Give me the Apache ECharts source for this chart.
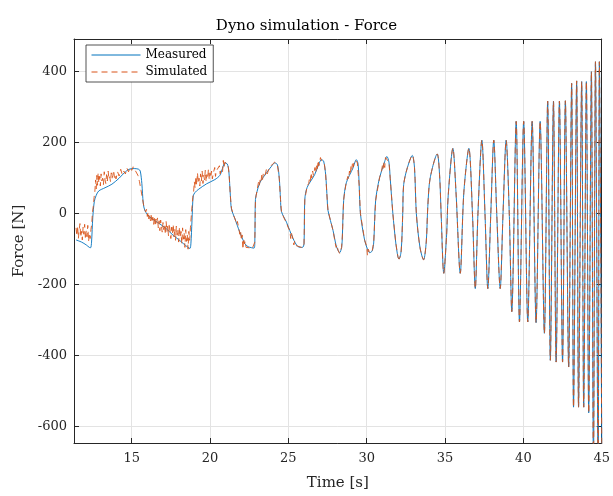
<!DOCTYPE html>
<html>
<head>
<meta charset="utf-8">
<script src="https://cdn.jsdelivr.net/npm/echarts@6/dist/echarts.min.js"></script>
<style>
  html, body { margin: 0; padding: 0; background: #fff; }
  #chart { width: 613px; height: 496px; }
</style>
</head>
<body>
<div id="chart"></div>
<script>
// [time s, force N]
var measuredSlow = [
  [11.45, -74], [11.8, -80], [12.1, -88], [12.3, -95], [12.38, -96], [12.44, -80], [12.52, -10],
  [12.62, 35], [12.74, 52], [12.9, 64], [13.3, 73], [13.74, 83], [14.2, 100], [14.6, 118],
  [14.9, 126], [15.2, 127], [15.45, 125], [15.55, 120], [15.65, 85], [15.74, 30], [15.85, 8],
  [16.17, -10], [16.8, -29], [17.2, -42], [17.65, -61], [18.0, -73], [18.29, -84], [18.6, -95],
  [18.72, -98], [18.78, -85], [18.85, -20], [18.93, 50], [19.05, 60], [19.25, 68], [19.78, 84],
  [20.31, 96], [20.63, 108], [20.8, 128], [20.95, 143], [21.1, 140], [21.2, 120], [21.3, 50],
  [21.37, 13], [21.58, -13], [21.9, -52], [22.22, -84], [22.43, -93], [22.81, -97], [22.86, -80],
  [22.9, 40], [23.0, 62], [23.18, 87], [23.6, 115], [23.9, 132], [24.13, 143], [24.3, 138],
  [24.42, 100], [24.5, 40], [24.56, 6], [24.88, -24], [25.3, -70], [25.62, -93], [25.9, -95],
  [26.0, -85], [26.05, 40], [26.2, 74], [26.68, 110], [26.95, 140], [27.11, 152], [27.25, 148],
  [27.38, 110], [27.48, 40], [27.53, 9], [27.85, -47], [28.05, -90], [28.17, -103], [28.27, -110],
  [28.4, -95], [28.45, -60], [28.53, 37], [28.7, 87], [29.12, 128], [29.34, 152], [29.45, 140],
  [29.52, 80], [29.6, 0], [29.87, -75], [30.05, -100], [30.19, -110], [30.35, -105], [30.45, -80],
  [30.57, 37], [30.82, 101], [31.1, 140], [31.29, 161], [31.42, 145], [31.5, 100], [31.67, 0],
  [31.85, -80], [31.99, -121]
];

var measuredFast = [
  [31.99, -121], [32.06, -128], [32.2, -105], [32.3, 0], [32.36, 82], [32.6, 130], [32.91, 164],
  [33.05, 130], [33.17, 0], [33.4, -95], [33.63, -130], [33.8, -80], [33.9, 20], [34.05, 100],
  [34.5, 168], [34.65, 110], [34.75, 0], [34.92, -168], [35.1, -60], [35.2, 50], [35.5, 184],
  [35.7, 60], [35.97, -168], [36.2, 60], [36.52, 184], [36.75, 0], [36.93, -211], [37.1, 0],
  [37.35, 207], [37.55, 0], [37.73, -211], [37.92, 0], [38.11, 207], [38.3, 0], [38.52, -211],
  [38.7, 0], [38.9, 207], [39.1, 0], [39.26, -276], [39.54, 260], [39.75, -305], [40.02, 260],
  [40.28, -305], [40.56, 260], [40.81, -307], [41.07, 260], [41.34, -337], [41.55, 317],
  [41.72, -413], [41.92, 317], [42.09, -418], [42.3, 317], [42.5, -418], [42.68, 318],
  [42.89, -432], [43.08, 367], [43.2, -545], [43.4, 374], [43.52, -545], [43.72, 372],
  [43.85, -545], [44.02, 372], [44.17, -561], [44.34, 400], [44.47, -720], [44.6, 428],
  [44.77, -740], [44.85, 428], [45.0, -650]
];

var simulatedNoisy = [
  [11.45, -40], [11.5, -62], [11.55, -35], [11.6, -70], [11.65, -45], [11.7, -28], [11.75, -66],
  [11.8, -50], [11.85, -74], [11.9, -38], [11.95, -58], [12.0, -30], [12.05, -72], [12.1, -48],
  [12.15, -65], [12.2, -33], [12.25, -78], [12.3, -55], [12.35, -70], [12.4, -45], [12.45, -30],
  [12.5, 5], [12.55, 20], [12.6, 45], [12.65, 62], [12.7, 95], [12.74, 70], [12.78, 108],
  [12.82, 80], [12.86, 115], [12.9, 88], [12.95, 105], [13.0, 78], [13.05, 112], [13.1, 92],
  [13.15, 100], [13.2, 82], [13.25, 118], [13.3, 95], [13.35, 85], [13.4, 110], [13.45, 92],
  [13.5, 120], [13.55, 98], [13.6, 104], [13.65, 90], [13.7, 115], [13.75, 100], [13.8, 108],
  [13.85, 122], [13.9, 102], [13.95, 110], [14.0, 98], [14.1, 118], [14.2, 106], [14.3, 125],
  [14.4, 110], [14.5, 120], [14.6, 112], [14.7, 128], [14.8, 118], [14.9, 130], [15.0, 122],
  [15.1, 132], [15.2, 124], [15.3, 120], [15.4, 108], [15.5, 90], [15.6, 65], [15.7, 40],
  [15.8, 15], [15.9, 5], [15.95, 12], [16.0, -8], [16.05, 5], [16.1, -15], [16.15, -2],
  [16.2, -20], [16.25, -5], [16.3, -25], [16.35, -10], [16.4, -30], [16.45, -8], [16.5, -35],
  [16.55, -15], [16.6, -28], [16.65, -12], [16.7, -40], [16.75, -20], [16.8, -48], [16.85, -18],
  [16.9, -35], [16.95, -52], [17.0, -25], [17.05, -45], [17.1, -30], [17.15, -58], [17.2, -22],
  [17.25, -50], [17.3, -35], [17.35, -62], [17.4, -28], [17.45, -48], [17.5, -70], [17.55, -38],
  [17.6, -55], [17.65, -30], [17.7, -65], [17.75, -42], [17.8, -75], [17.85, -35], [17.9, -60],
  [17.95, -45], [18.0, -80], [18.05, -38], [18.1, -68], [18.15, -50], [18.2, -85], [18.25, -40],
  [18.3, -72], [18.35, -55], [18.4, -95], [18.45, -45], [18.5, -78], [18.55, -60], [18.6, -100],
  [18.65, -50], [18.7, -75], [18.75, -40], [18.8, -10], [18.85, 20], [18.9, 45], [18.95, 60],
  [19.0, 90], [19.05, 72], [19.1, 105], [19.15, 80], [19.2, 115], [19.25, 88], [19.3, 100],
  [19.35, 78], [19.4, 112], [19.45, 92], [19.5, 120], [19.55, 85], [19.6, 108], [19.65, 95],
  [19.7, 122], [19.75, 90], [19.8, 110], [19.85, 100], [19.9, 125], [19.95, 96], [20.0, 115],
  [20.05, 102], [20.1, 120], [20.15, 98], [20.2, 112], [20.3, 130], [20.35, 105], [20.4, 120],
  [20.5, 115], [20.6, 135], [20.65, 112], [20.7, 125], [20.8, 118], [20.85, 150], [20.9, 130],
  [20.95, 145], [21.05, 140], [21.15, 138], [21.22, 110], [21.3, 50], [21.37, 15], [21.5, -5],
  [21.6, -15], [21.7, -30], [21.75, -22], [21.85, -45], [21.9, -58], [21.95, -48], [22.0, -75],
  [22.05, -60], [22.1, -100], [22.15, -70], [22.2, -85], [22.25, -78], [22.3, -95], [22.4, -90],
  [22.5, -96], [22.6, -95], [22.7, -98], [22.81, -97], [22.86, -80], [22.9, 40], [23.0, 65],
  [23.1, 90], [23.15, 80], [23.2, 95], [23.25, 88], [23.3, 108], [23.35, 95], [23.4, 112],
  [23.5, 105], [23.6, 125], [23.65, 112], [23.7, 118], [23.8, 130], [23.9, 135], [24.0, 140],
  [24.13, 145], [24.3, 138], [24.42, 100], [24.5, 40], [24.56, 6], [24.7, -10], [24.88, -26],
  [25.0, -40], [25.1, -48], [25.15, -70], [25.2, -55], [25.3, -72], [25.35, -88], [25.4, -78],
  [25.5, -90], [25.62, -94], [25.9, -96], [26.0, -85], [26.05, 40], [26.2, 78], [26.3, 85],
  [26.35, 100], [26.4, 92], [26.45, 115], [26.5, 100], [26.55, 120], [26.6, 108], [26.7, 130],
  [26.75, 115], [26.8, 135], [26.85, 125], [26.9, 150], [26.95, 135], [27.05, 158], [27.11, 150],
  [27.2, 155], [27.3, 140], [27.38, 110], [27.48, 40], [27.53, 9], [27.85, -47], [28.0, -85],
  [28.05, -95], [28.1, -88], [28.17, -103], [28.27, -112], [28.4, -95], [28.45, -60], [28.53, 40],
  [28.7, 90], [28.8, 105], [28.85, 98], [28.9, 120], [28.95, 110], [29.0, 135], [29.05, 125],
  [29.1, 145], [29.15, 132], [29.2, 150], [29.3, 155], [29.4, 145], [29.52, 80], [29.6, 0],
  [29.87, -75], [30.0, -92], [30.05, -118], [30.1, -100], [30.19, -110], [30.35, -105],
  [30.45, -80], [30.57, 37], [30.82, 101], [30.95, 120], [31.0, 135], [31.05, 125], [31.1, 145],
  [31.15, 130], [31.2, 158], [31.29, 162], [31.42, 145], [31.5, 100], [31.67, 0], [31.85, -80],
  [31.99, -121]
];

var xRange = [11.32, 45];
var yRange = [-646, 492];

var serif = 'DejaVu Serif';
var axisColor = '#262626';
var gridColor = '#e3e3e3';
var blue = '#0072BD';
var orange = '#D95319';

var myChart = echarts.init(document.getElementById('chart'));

var option = {
    animation: false,
    backgroundColor: '#fff',
    title: {
        text: 'Dyno simulation - Force',
        left: 'center',
        top: 14,
        textStyle: { fontFamily: serif, fontSize: 15, fontWeight: 'normal', color: '#000' }
    },
    legend: {
        left: 86,
        top: 45,
        orient: 'vertical',
        data: ['Measured', 'Simulated'],
        backgroundColor: '#fff',
        borderColor: axisColor,
        borderWidth: 0.8,
        borderRadius: 0,
        padding: [4, 6, 4, 5],
        itemGap: 5,
        itemWidth: 49,
        itemHeight: 12,
        itemStyle: { opacity: 0 },
        lineStyle: { width: 1 },
        textStyle: { fontFamily: serif, fontSize: 12, color: '#000' }
    },
    grid: { left: 74, right: 10, top: 39, bottom: 47 },
    xAxis: [{
        type: 'value',
        min: xRange[0],
        max: xRange[1],
        name: 'Time [s]',
        nameLocation: 'middle',
        nameGap: 33,
        nameTextStyle: { fontFamily: serif, fontSize: 15, color: axisColor },
        axisLine: { onZero: false, lineStyle: { color: axisColor, width: 1 } },
        axisTick: { inside: true, length: 5, lineStyle: { color: axisColor } },
        axisLabel: {
            margin: 9,
            fontFamily: serif, fontSize: 13, color: axisColor,
            formatter: function (v) { return v % 5 === 0 ? String(v) : ''; }
        },
        splitLine: { show: true, lineStyle: { color: gridColor, width: 1 } }
    }, {
        type: 'value',
        position: 'top',
        min: xRange[0],
        max: xRange[1],
        axisLine: { show: true, onZero: false, lineStyle: { color: axisColor, width: 1 } },
        axisTick: { inside: true, length: 5, lineStyle: { color: axisColor } },
        axisLabel: { show: false },
        splitLine: { show: false }
    }],
    yAxis: [{
        type: 'value',
        min: yRange[0],
        max: yRange[1],
        name: 'Force [N]',
        nameLocation: 'middle',
        nameGap: 47,
        nameTextStyle: { fontFamily: serif, fontSize: 15, color: axisColor },
        axisLine: { show: true, onZero: false, lineStyle: { color: axisColor, width: 1 } },
        axisTick: { show: true, inside: true, length: 5, lineStyle: { color: axisColor } },
        axisLabel: {
            margin: 7,
            fontFamily: serif, fontSize: 13, color: axisColor,
            formatter: function (v) { return v % 200 === 0 ? String(v) : ''; }
        },
        splitLine: { show: true, lineStyle: { color: gridColor, width: 1 } }
    }, {
        type: 'value',
        position: 'right',
        min: yRange[0],
        max: yRange[1],
        axisLine: { show: true, onZero: false, lineStyle: { color: axisColor, width: 1 } },
        axisTick: { show: true, inside: true, length: 5, lineStyle: { color: axisColor } },
        axisLabel: { show: false },
        splitLine: { show: false }
    }],
    series: [
        {
            name: 'Measured',
            type: 'line',
            symbol: 'none',
            smooth: 0.3,
            z: 2,
            lineStyle: { color: blue, width: 0.9 },
            itemStyle: { color: blue },
            data: measuredSlow.concat(measuredFast.slice(1))
        },
        {
            name: 'Simulated',
            type: 'line',
            symbol: 'none',
            z: 3,
            lineStyle: { color: orange, width: 0.9, type: [6, 4] },
            itemStyle: { color: orange },
            data: simulatedNoisy
        },
        {
            // simulated follows the measured trace closely after ~32 s
            name: 'Simulated',
            type: 'line',
            symbol: 'none',
            smooth: 0.3,
            z: 3,
            lineStyle: { color: orange, width: 0.9, type: [6, 4] },
            itemStyle: { color: orange },
            data: measuredFast
        }
    ]
};

myChart.setOption(option);
</script>
</body>
</html>
